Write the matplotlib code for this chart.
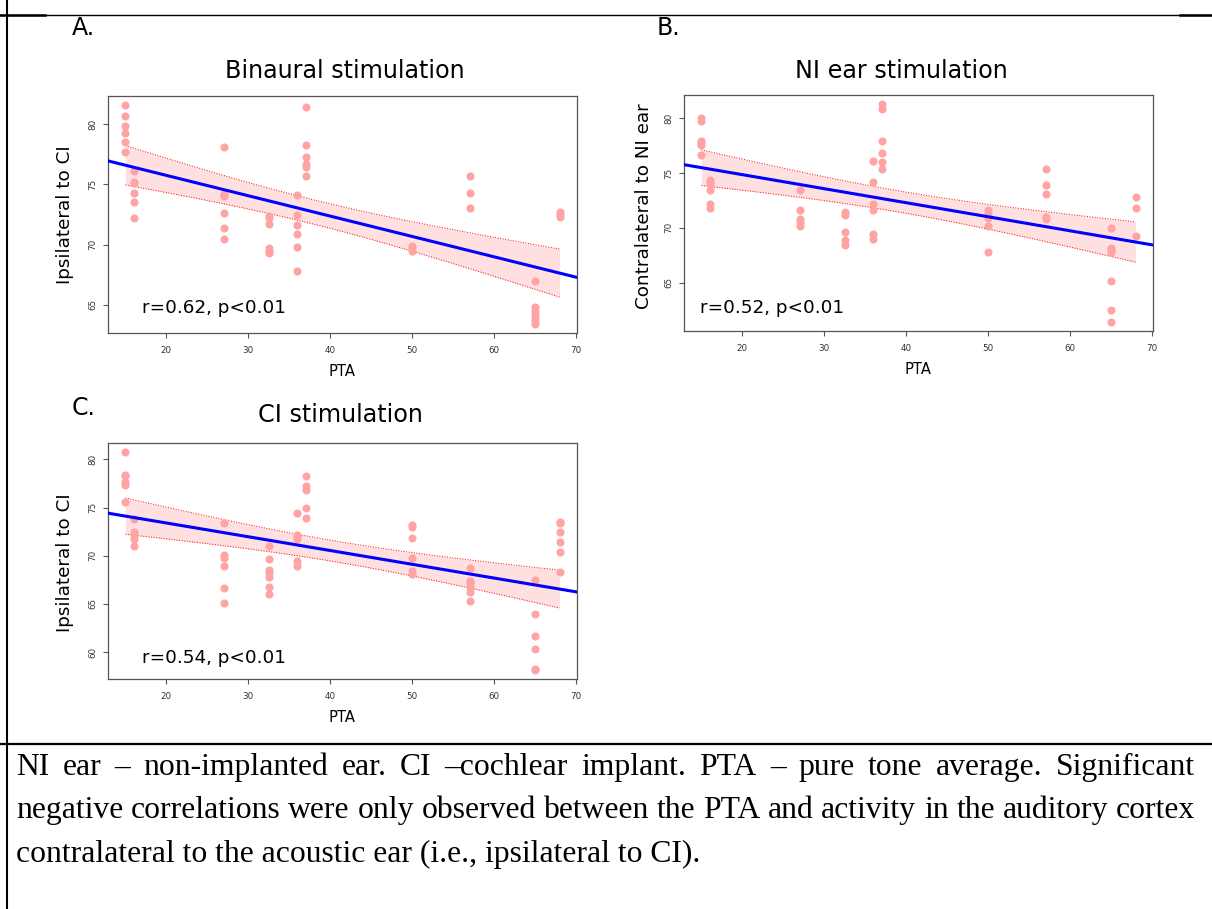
import matplotlib
matplotlib.use("Agg")
import matplotlib.pyplot as plt
from matplotlib.lines import Line2D
import numpy as np

W, H = 1212, 909

# PTA of each subject (x), one group of channel values per subject
pta_levels = [15, 16, 27, 32.5, 36, 37, 50, 57, 65, 68]

binaural = [
    [81.6, 80.7, 79.8, 79.3, 78.5, 77.7],
    [76.1, 75.2, 75.1, 74.3, 73.5, 72.2],
    [78.1, 74.2, 74.0, 72.6, 71.4, 70.5],
    [72.4, 72.2, 71.7, 69.7, 69.5, 69.3],
    [74.1, 72.5, 71.6, 70.9, 69.8, 67.8],
    [81.4, 78.3, 77.3, 76.7, 76.4, 75.7],
    [69.9, 69.7, 69.5],
    [75.7, 74.3, 73.0],
    [67.0, 64.8, 64.5, 64.2, 63.9, 63.7, 63.4],
    [72.7, 72.5, 72.3],
]
ni_ear = [
    [80.0, 79.7, 77.9, 77.7, 77.5, 76.6],
    [74.4, 74.2, 74.0, 73.4, 72.2, 71.8],
    [73.4, 71.6, 70.8, 70.5, 70.2],
    [71.4, 71.2, 69.6, 68.9, 68.4],
    [76.1, 74.2, 72.2, 71.6, 69.4, 69.0],
    [81.3, 80.8, 77.9, 76.8, 76.0, 75.4],
    [71.6, 71.3, 70.9, 70.2, 67.8],
    [75.4, 73.9, 73.1, 71.0, 70.8],
    [70.0, 68.2, 68.0, 67.8, 65.2, 62.5, 61.4],
    [72.8, 71.8, 69.3],
]
ci_stim = [
    [80.8, 78.4, 78.3, 77.7, 77.3, 75.6],
    [73.8, 72.5, 72.2, 71.7, 71.0],
    [73.4, 70.1, 69.8, 68.9, 66.6, 65.1],
    [71.0, 69.7, 68.5, 68.2, 67.8, 66.8, 66.0],
    [74.4, 72.2, 71.9, 71.7, 69.4, 68.9],
    [78.3, 77.2, 76.8, 75.0, 73.9],
    [73.2, 73.0, 71.8, 69.8, 68.4, 68.1],
    [68.7, 67.4, 67.2, 66.8, 66.2, 65.3],
    [67.5, 63.9, 61.7, 60.3, 58.2, 58.1],
    [73.5, 73.4, 72.5, 71.4, 70.4, 68.3],
]

titles = ["Binaural stimulation", "NI ear stimulation", "CI stimulation"]
ylabels = ["Ipsilateral to CI", "Contralateral to NI ear", "Ipsilateral to CI"]
stats = ["r=0.62, p<0.01", "r=0.52, p<0.01", "r=0.54, p<0.01"]
letters = ["A.", "B.", "C."]

caption = [
    "NI ear \u2013 non-implanted ear. CI \u2013cochlear implant. PTA \u2013 pure tone average. Significant",
    "negative correlations were only observed between the PTA and activity in the auditory cortex",
    "contralateral to the acoustic ear (i.e., ipsilateral to CI).",
]


def fx(px):
    return px / W


def fy(py):
    return 1 - py / H


fig = plt.figure(figsize=(W / 100, H / 100), dpi=100)
plt.rcParams['font.family'] = ['DejaVu Sans']

# panel boxes in pixels: left, top, right, bottom
boxes = [(108, 96, 577, 333), (684, 95, 1153, 331), (108, 443, 577, 679)]
title_pos = [(345, 78), (901, 78), (340, 422)]
letter_pos = [(72, 35), (657, 35), (72, 415)]
ylab_pos = [(65, 215), (644, 206), (65, 563)]
stat_pos = [(0.072, 0.105), (0.034, 0.096), (0.072, 0.089)]

for i, groups in enumerate([binaural, ni_ear, ci_stim]):
    l, t, r, b = boxes[i]
    ax = fig.add_axes([fx(l), fy(b), (r - l) / W, (b - t) / H])

    x = np.concatenate([[p] * len(g) for p, g in zip(pta_levels, groups)])
    y = np.concatenate(groups)

    # R-style 4% range extension
    xpad = 0.04 * (x.max() - x.min())
    ypad = 0.04 * (y.max() - y.min())
    ax.set_xlim(x.min() - xpad, x.max() + xpad)
    ax.set_ylim(y.min() - ypad, y.max() + ypad)

    # linear fit with 95% confidence band
    n = len(x)
    slope, icpt = np.polyfit(x, y, 1)
    resid = y - (icpt + slope * x)
    s = np.sqrt(np.sum(resid ** 2) / (n - 2))
    sxx = np.sum((x - x.mean()) ** 2)
    xb = np.linspace(x.min(), x.max(), 100)
    yb = icpt + slope * xb
    half = 2.01 * s * np.sqrt(1 / n + (xb - x.mean()) ** 2 / sxx)

    ax.fill_between(xb, yb - half, yb + half, color='#ffe0e0', lw=0, zorder=1)
    ax.plot(xb, yb + half, color='red', lw=0.7, ls=':', zorder=2)
    ax.plot(xb, yb - half, color='red', lw=0.7, ls=':', zorder=2)
    ax.scatter(x, y, s=34, color='#ffa3a3', lw=0, zorder=3)
    xl = np.array(ax.get_xlim())
    ax.plot(xl, icpt + slope * xl, color='#0000ff', lw=2.2, zorder=4)

    ax.set_xticks([20, 30, 40, 50, 60, 70])
    ax.set_yticks(np.arange(60, 85, 5))
    ax.set_ylim(y.min() - ypad, y.max() + ypad)
    ax.tick_params(direction='out', length=3.6, width=0.8, color='#555555',
                   labelsize=6.3, labelcolor='#333333')
    ax.tick_params(axis='x', pad=6)
    ax.tick_params(axis='y', pad=4)
    for lab in ax.get_yticklabels():
        lab.set_rotation(90)
        lab.set_va('center')
    for sp in ax.spines.values():
        sp.set_color('#555555')
        sp.set_linewidth(0.9)

    ax.set_xlabel("PTA", fontsize=10.6, va='center')
    ax.xaxis.set_label_coords(0.5, -39 / (b - t))

    ax.text(stat_pos[i][0], stat_pos[i][1], stats[i], transform=ax.transAxes,
            fontsize=13.2, va='center', ha='left')

    fig.text(fx(title_pos[i][0]), fy(title_pos[i][1]), titles[i],
             fontsize=17.2, ha='center', va='baseline')
    fig.text(fx(letter_pos[i][0]), fy(letter_pos[i][1]), letters[i],
             fontsize=17, ha='left', va='baseline')
    fig.text(fx(ylab_pos[i][0]), fy(ylab_pos[i][1]), ylabels[i],
             fontsize=13.2, rotation=90, ha='center', va='center')

# table frame lines
fig.add_artist(Line2D([0, 1], [fy(15), fy(15)], transform=fig.transFigure, color='black', lw=1.0))
fig.add_artist(Line2D([0, fx(45)], [fy(15), fy(15)], transform=fig.transFigure, color='black', lw=1.8))
fig.add_artist(Line2D([fx(1180), 1], [fy(15), fy(15)], transform=fig.transFigure, color='black', lw=1.8))
fig.add_artist(Line2D([0, 1], [fy(744), fy(744)], transform=fig.transFigure, color='black', lw=1.6))
fig.add_artist(Line2D([fx(7), fx(7)], [0, 1], transform=fig.transFigure, color='black', lw=1.5))

# caption, justified like the source document
renderer = fig.canvas.get_renderer()
serif = 'Liberation Serif'


def width_of(s, size):
    tt = fig.text(0, 0, s, fontsize=size, family=serif)
    w = tt.get_window_extent(renderer).width
    tt.remove()
    return w


left_px, right_px = 16, 1195
cap_size = 20 * (right_px - left_px) / width_of(caption[1], 20)
baselines = [775, 818, 862]
for k, line in enumerate(caption):
    if k < 2:
        words = line.split(" ")
        ws = [width_of(w_, cap_size) for w_ in words]
        gap = (right_px - left_px - sum(ws)) / (len(words) - 1)
        xpos = left_px
        for w_, wd in zip(words, ws):
            fig.text(fx(xpos), fy(baselines[k]), w_, fontsize=cap_size, family=serif,
                     ha='left', va='baseline')
            xpos += wd + gap
    else:
        fig.text(fx(left_px), fy(baselines[k]), line, fontsize=cap_size, family=serif,
                 ha='left', va='baseline')

fig.savefig("out.png", dpi=100)
